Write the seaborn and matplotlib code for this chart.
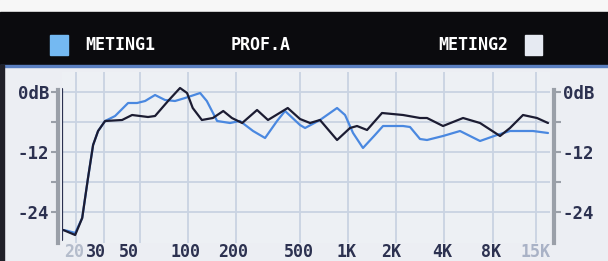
import numpy as np
import pandas as pd
import matplotlib
matplotlib.use("Agg")
import matplotlib.pyplot as plt
import matplotlib.transforms as mtransforms
from matplotlib.patches import Rectangle
import seaborn as sns

# measurement 1 (blue) - frequency (Hz) and level (dB)
freq_m1 = [16.6, 17.8, 19.7, 21.8, 23.7, 25.5, 27.4, 30.3, 35.0, 42.2, 48.0, 53.9,
           62.2, 71.8, 82.9, 95.8, 119, 131, 152, 183, 211, 255, 303, 360, 404,
           501, 539, 668, 854, 958, 1075, 1240, 1474, 1655, 2207, 2441, 2818,
           3117, 3924, 5012, 6683, 8531, 10290, 14320, 17780]
db_m1 = [-27.6, -27.8, -28.2, -25.2, -17.2, -10.6, -7.8, -5.8, -4.8, -2.2, -2.2, -1.8,
         -0.6, -1.6, -1.8, -1.2, -0.2, -1.8, -5.8, -6.2, -5.8, -7.8, -9.2, -5.8, -3.8,
         -6.6, -7.2, -5.6, -3.2, -4.6, -8.2, -11.2, -8.6, -6.8, -6.8, -7.0, -9.4,
         -9.6, -8.8, -7.8, -9.8, -8.6, -7.8, -7.8, -8.2]

# measurement 2 (dark)
freq_m2 = [16.6, 19.7, 21.8, 23.7, 25.5, 27.4, 30.3, 38.7, 44.7, 56.2, 62.2, 75.0,
           89.1, 98.6, 107, 122, 143, 166, 188, 218, 270, 316, 420, 501, 579,
           668, 854, 1029, 1138, 1315, 1631, 2207, 2818, 3117, 3924, 5236, 6683,
           8913, 10290, 12410, 15170, 17780]
db_m2 = [-27.6, -28.6, -25.2, -17.2, -10.6, -7.8, -5.8, -5.6, -4.6, -5.0, -4.8, -1.8,
         0.8, -0.2, -3.2, -5.6, -5.2, -3.8, -5.2, -6.2, -3.6, -5.6, -3.2, -5.4, -6.2,
         -5.6, -9.6, -7.2, -6.8, -7.6, -4.2, -4.6, -5.2, -5.2, -6.8, -5.2, -6.2,
         -8.8, -7.2, -4.6, -5.2, -6.2]

x_ticks = [20, 30, 50, 100, 200, 500, 1000, 2000, 4000, 8000, 15000]
x_labels = ["20", "30", "50", "100", "200", "500", "1K", "2K", "4K", "8K", "15K"]
y_ticks = [0, -6, -12, -18, -24]
y_labels = ["0dB", "", "-12", "", "-24"]

# the screen puts a few frequency labels a little left of their grid line (pixels)
label_shift = [-2, -8, -11, -3, -3, -1, -2, -5, -2, -2, -1]

BLUE = "#4a88e0"
DARK = "#1c1c32"
NAVY = "#2c3150"
PANEL = "#eceef3"
GRID = "#c9d3e2"

df = pd.concat([
    pd.DataFrame({"freq": freq_m1, "db": db_m1, "meting": "METING1"}),
    pd.DataFrame({"freq": freq_m2, "db": db_m2, "meting": "METING2"}),
])

sns.set_style("white")
plt.rcParams["font.family"] = ["DejaVu Sans Mono", "DejaVu Sans"]
plt.rcParams["font.weight"] = "bold"

fig = plt.figure(figsize=(6.08, 2.61), dpi=100, facecolor=PANEL)

# header band
fig.add_artist(Rectangle((0, 0.954), 1, 0.046, transform=fig.transFigure, color="#f7f7f7", zorder=0))
fig.add_artist(Rectangle((0, 0.751), 1, 0.203, transform=fig.transFigure, color="#0b0b0e", zorder=0))
fig.add_artist(Rectangle((0, 0.744), 1, 0.008, transform=fig.transFigure, color="#5a7fc0", zorder=0))
fig.add_artist(Rectangle((0, 0), 0.006, 0.75, transform=fig.transFigure, color="#202028", zorder=0))
fig.add_artist(Rectangle((50 / 608, 1 - 55 / 261), 18 / 608, 20 / 261, transform=fig.transFigure,
                         color="#74b9f2"))
fig.add_artist(Rectangle((525 / 608, 1 - 55 / 261), 17 / 608, 20 / 261, transform=fig.transFigure,
                         color="#e6eaf2"))
hy = 1 - 45 / 261
fig.text(85 / 608, hy, "METING1", color="white", fontsize=12, fontweight="bold", va="center")
fig.text(261 / 608, hy, "PROF.A", color="white", fontsize=12, fontweight="bold", va="center", ha="center")
fig.text(508 / 608, hy, "METING2", color="white", fontsize=12, fontweight="bold", va="center", ha="right")

ax = fig.add_axes([62 / 608, 1 - 243 / 261, 488 / 608, 171 / 261])
ax.set_facecolor("#edf0f4")

sns.lineplot(data=df, x="freq", y="db", hue="meting", estimator=None, sort=True,
             palette={"METING1": BLUE, "METING2": DARK}, linewidth=1.6, legend=False, ax=ax)

ax.set_xscale("log")
ax.set_xlim(16.3, 18300)
ax.set_ylim(-30.2, 4)
ax.set_xticks(x_ticks, x_labels)
ax.minorticks_off()
ax.set_yticks(y_ticks, y_labels)
ax.set_xlabel("")
ax.set_ylabel("")

for f in x_ticks:
    ax.axvline(f, color=GRID, lw=1.3, zorder=0)
for d in y_ticks:
    ax.axhline(d, color=GRID, lw=1.3, zorder=0)
ax.axvline(16.3, ymin=0.02, ymax=0.9, color=NAVY, lw=1.6, zorder=3)

for side in ["top", "bottom"]:
    ax.spines[side].set_visible(False)
for side in ["left", "right"]:
    ax.spines[side].set_position(("outward", 3))
    ax.spines[side].set_color("#9a9fa8")
    ax.spines[side].set_linewidth(3)
    ax.spines[side].set_bounds(-30.2, 0.4)

ax.tick_params(axis="y", left=True, right=True, labelleft=True, labelright=True,
               direction="out", length=5, width=1.5, color="#9a9fa8",
               labelsize=12.5, labelcolor=NAVY, pad=1)
ax.tick_params(axis="x", bottom=False, length=0, labelsize=12, labelcolor=NAVY, pad=0)

xl = ax.get_xticklabels()
for lab, dx in zip(xl, label_shift):
    lab.set_transform(lab.get_transform() + mtransforms.ScaledTranslation(dx / 100, 0, fig.dpi_scale_trans))
xl[0].set_color("#b4bccb")
xl[-1].set_color("#a9b2c6")

fig.savefig("out.png", dpi=100, facecolor=fig.get_facecolor())
